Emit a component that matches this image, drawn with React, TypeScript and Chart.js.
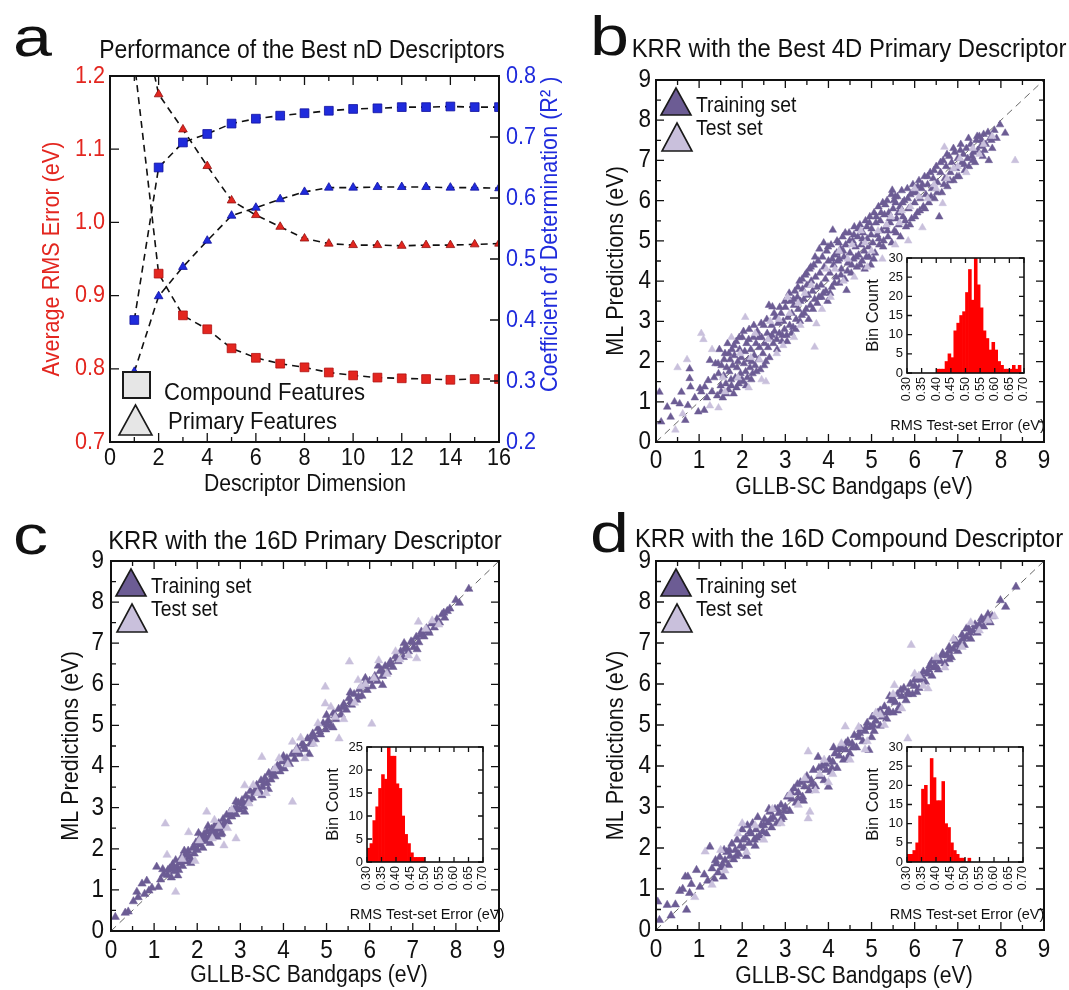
import React, { useEffect, useRef } from "react";
import { Chart, registerables } from "chart.js";

Chart.register(...registerables);

const SANS = "'Liberation Sans', Arial, Helvetica, sans-serif";
const RED = "#e3261f";
const BLUE = "#1f2bdc";
const DARK = "#6c5c94";
const LIGHT = "#c9c0dc";
const NARROW_X = 0.9; // horizontal squeeze used to mimic the condensed Helvetica of the figure

// ---------------- Panel a data ----------------
const dims = [1, 2, 3, 4, 5, 6, 7, 8, 9, 10, 11, 12, 13, 14, 15, 16];
const rmsCompound = [1.22, 0.93, 0.873, 0.854, 0.828, 0.815, 0.807, 0.802, 0.795, 0.791, 0.788, 0.787, 0.786, 0.785, 0.786, 0.786];
const rmsPrimary = [1.33, 1.175, 1.127, 1.077, 1.03, 1.01, 0.994, 0.978, 0.971, 0.969, 0.969, 0.968, 0.969, 0.969, 0.97, 0.971];
const r2Compound = [0.4, 0.65, 0.691, 0.705, 0.722, 0.73, 0.735, 0.739, 0.743, 0.746, 0.747, 0.749, 0.749, 0.75, 0.749, 0.749];
const r2Primary = [0.315, 0.439, 0.487, 0.53, 0.571, 0.584, 0.598, 0.61, 0.617, 0.617, 0.618, 0.618, 0.618, 0.617, 0.617, 0.616];

// ---------------- Panel b data (4D primary) ----------------
const bTrain = [
  [0.08, 1.24], [0.12, 0.5], [0.26, 0.87], [0.34, 0.62], [0.43, 1.0], [0.55, 0.95], [0.59, 1.24], [0.68, 0.54], [0.74, 0.91], [0.78, 1.82],
  [0.78, 1.58], [0.8, 1.37], [0.98, 0.75], [1.02, 1.33], [1.13, 1.37], [1.12, 0.79], [1.21, 1.53], [1.25, 2.03], [1.3, 1.25], [1.35, 1.6],
  [1.38, 1.95], [0.9, 1.1], [1.05, 1.25], [1.18, 1.1],
  [1.42, 1.15], [1.45, 1.7], [1.47, 2.3], [1.5, 1.4], [1.52, 1.9], [1.55, 1.1], [1.57, 1.65], [1.6, 2.2], [1.62, 1.45], [1.64, 1.85],
  [1.66, 2.45], [1.68, 1.3], [1.7, 1.75], [1.72, 2.05], [1.74, 1.55], [1.76, 2.3], [1.78, 1.9], [1.8, 1.2], [1.82, 2.15], [1.84, 1.6],
  [1.86, 2.5], [1.88, 1.85], [1.9, 2.0], [1.92, 1.45], [1.94, 2.3], [1.96, 1.7], [1.98, 2.1], [2.0, 2.6],
  [2.02, 1.5], [2.04, 1.95], [2.06, 2.25], [2.08, 1.75], [2.1, 2.45], [2.12, 1.6], [2.14, 2.05], [2.16, 2.8], [2.18, 1.85], [2.2, 2.3],
  [2.22, 2.0], [2.24, 1.7], [2.26, 2.6], [2.28, 2.15], [2.3, 1.9], [2.32, 2.45], [2.35, 2.75], [2.38, 2.05], [2.4, 2.35], [2.42, 1.8],
  [2.45, 2.6], [2.48, 2.2], [2.5, 2.9], [2.52, 2.45], [2.55, 2.0], [2.58, 2.7],
  [2.62, 3.4], [2.6, 2.35], [2.64, 2.6], [2.68, 2.9], [2.7, 3.36], [2.72, 2.45], [2.75, 2.75], [2.78, 3.1], [2.8, 2.55], [2.83, 2.95],
  [2.86, 2.7], [2.9, 3.2], [2.92, 2.5], [2.95, 3.0], [2.98, 2.8], [3.0, 3.35], [3.03, 2.65], [3.06, 3.1], [3.1, 2.9], [3.12, 3.5],
  [3.15, 3.2], [3.18, 2.85],
  [3.2, 3.4], [3.22, 3.75], [3.25, 3.05], [3.28, 3.6], [3.3, 3.3], [3.33, 4.0], [3.35, 3.5], [3.38, 3.15], [3.4, 3.8], [3.43, 3.55],
  [3.46, 4.15], [3.48, 3.3], [3.5, 3.9], [3.53, 3.65], [3.56, 4.3], [3.58, 3.4], [3.6, 4.0], [3.63, 3.75], [3.66, 4.4], [3.68, 3.55],
  [3.7, 4.1], [3.73, 3.85], [3.76, 4.5], [3.78, 3.6],
  [3.8, 4.2], [3.83, 3.9], [3.86, 4.6], [3.88, 3.7], [3.9, 4.35], [3.93, 4.05], [3.96, 4.75], [3.98, 3.5], [4.0, 4.5], [4.03, 4.2],
  [4.06, 4.9], [4.08, 3.85], [4.1, 5.27], [4.12, 4.4], [4.15, 4.65], [4.18, 4.1], [4.2, 5.0], [4.22, 4.5], [4.25, 3.95], [4.28, 4.8],
  [4.3, 4.3], [4.33, 5.1], [4.36, 4.6], [4.38, 4.05], [4.42, 3.77], [4.4, 4.9],
  [4.45, 4.45], [4.48, 5.2], [4.5, 4.7], [4.53, 4.2], [4.56, 5.0], [4.58, 4.55], [4.6, 5.35], [4.63, 4.85], [4.66, 4.35], [4.68, 5.1],
  [4.7, 4.65], [4.73, 5.4], [4.76, 4.9], [4.78, 4.5], [4.8, 5.2], [4.83, 4.75], [4.86, 5.5], [4.88, 4.6], [4.9, 5.05], [4.93, 4.85],
  [4.96, 5.6], [4.98, 4.4],
  [5.0, 5.3], [5.03, 4.95], [5.06, 5.7], [5.08, 4.7], [5.1, 5.45], [5.13, 5.15], [5.16, 5.85], [5.18, 4.9], [5.2, 5.5], [5.23, 5.25],
  [5.26, 5.95], [5.28, 5.0], [5.3, 5.65], [5.33, 5.35], [5.36, 6.0], [5.38, 5.1], [5.4, 5.7], [5.43, 5.45], [5.46, 6.15], [5.48, 6.26],
  [5.5, 5.8], [5.53, 5.25], [5.56, 5.95], [5.58, 5.55],
  [5.6, 6.1], [5.63, 5.4], [5.66, 5.85], [5.7, 6.25], [5.73, 5.6], [5.76, 6.0], [5.8, 5.35], [5.83, 6.3], [5.86, 5.8], [5.9, 6.15],
  [5.93, 5.55], [5.96, 6.4], [6.0, 5.95], [6.03, 6.2], [6.06, 5.7], [6.1, 6.5], [6.13, 6.05], [6.16, 6.3], [6.2, 5.85], [6.23, 6.6],
  [6.26, 6.15], [6.3, 6.4],
  [6.33, 5.95], [6.36, 6.7], [6.4, 6.3], [6.43, 6.55], [6.46, 6.05], [6.5, 6.85], [6.53, 6.45], [6.57, 5.6], [6.6, 6.7], [6.63, 6.2],
  [6.66, 7.0], [6.7, 6.55], [6.73, 6.85], [6.76, 6.35], [6.8, 7.1], [6.83, 6.7], [6.86, 6.95], [6.9, 6.5], [6.93, 7.2], [6.96, 6.8],
  [7.0, 7.05],
  [7.03, 6.6], [7.06, 7.25], [7.1, 6.95], [7.13, 7.15], [7.16, 6.75], [7.2, 7.3], [7.23, 7.05], [7.26, 6.85], [7.3, 7.4], [7.33, 7.1],
  [7.36, 7.2], [7.4, 6.95], [7.43, 7.5], [7.46, 7.25], [7.5, 7.6], [7.53, 7.35], [7.55, 7.51], [7.58, 7.1], [7.6, 7.65], [7.65, 7.4],
  [7.7, 7.7], [7.75, 7.55], [7.8, 7.3], [7.85, 7.75], [7.9, 7.55], [7.98, 7.89], [8.1, 7.68], [7.72, 7.0],
  [1.44, 1.95], [1.51, 1.25], [1.58, 2.05], [1.63, 1.2], [1.69, 2.2], [1.75, 1.4], [1.81, 2.4], [1.87, 1.35], [1.93, 2.6], [1.99, 1.55],
  [2.03, 2.75], [2.09, 1.4], [2.15, 2.55], [2.21, 1.55], [2.27, 2.9], [2.33, 1.75], [2.39, 2.6], [2.44, 2.95], [2.51, 1.9], [2.57, 3.05],
  [2.63, 2.1], [2.69, 2.65], [2.74, 3.2], [2.81, 2.3], [2.87, 3.35], [2.93, 2.65], [2.99, 3.5], [3.04, 2.5], [3.09, 3.7], [3.14, 2.7],
  [3.19, 3.55], [3.24, 2.8], [3.29, 3.85], [3.34, 3.0], [3.39, 4.05], [3.44, 3.2], [3.49, 4.2], [3.54, 3.05], [3.59, 4.35], [3.64, 3.3],
  [3.69, 4.6], [3.74, 3.45], [3.79, 4.8], [3.84, 3.6], [3.89, 4.95], [3.94, 3.75], [3.99, 4.85], [4.04, 3.7], [4.09, 4.55], [4.14, 3.95],
  [4.19, 4.7], [4.24, 4.95], [4.29, 4.15], [4.34, 4.75], [4.39, 5.2], [4.44, 4.25], [4.49, 5.0], [4.54, 4.4], [4.59, 5.15], [4.64, 4.6],
  [4.69, 5.3], [4.74, 4.4], [4.79, 5.05], [4.84, 4.3], [4.89, 5.35], [4.94, 4.6], [4.99, 5.15], [5.05, 4.55], [5.11, 5.6], [5.17, 5.05],
  [5.22, 5.7], [5.27, 4.85], [5.32, 5.9], [5.37, 5.25], [5.42, 5.55], [5.47, 4.95], [5.52, 6.0], [5.57, 5.2], [5.62, 5.7], [5.67, 5.1],
  [5.72, 5.95], [5.78, 5.5], [5.84, 6.05], [5.89, 5.4], [5.95, 6.2], [6.01, 5.6], [6.07, 6.35], [6.12, 5.75], [6.18, 6.4], [6.24, 5.8],
  [6.3, 6.6], [6.38, 6.1], [6.45, 6.75], [6.52, 6.2], [6.6, 6.95], [6.68, 6.4], [6.75, 7.15], [6.82, 6.5], [6.9, 7.3], [6.98, 6.6],
  [7.07, 7.4], [7.15, 6.9], [7.25, 7.55], [7.35, 7.0], [7.45, 7.6], [7.62, 7.25], [7.78, 7.5], [5.55, 6.1], [4.95, 5.45], [4.25, 4.55],
];
const bTest = [
  [0.45, 0.3], [0.5, 1.85], [0.72, 2.05], [0.62, 0.7], [1.05, 2.7], [1.1, 2.55], [1.25, 0.9], [1.45, 0.85], [1.3, 2.3], [1.6, 1.25],
  [1.75, 2.6], [1.9, 1.6], [2.07, 3.1], [2.15, 1.35], [2.3, 2.7], [2.45, 1.55], [2.55, 1.5], [2.65, 3.0], [2.8, 2.2], [2.95, 2.4],
  [3.05, 3.6], [3.2, 2.6], [3.35, 2.9], [3.45, 3.7], [3.68, 2.36], [3.72, 2.94], [3.85, 3.3], [3.95, 4.3], [4.05, 3.6], [4.25, 4.75],
  [4.35, 4.0], [4.55, 4.9], [4.6, 4.1], [4.75, 5.25], [4.9, 4.35], [5.0, 4.75], [5.15, 5.25], [5.25, 4.55], [5.45, 5.6], [5.55, 4.9],
  [5.7, 5.75], [5.85, 5.0], [6.0, 6.3], [6.18, 5.33], [6.3, 6.05], [6.45, 6.4], [6.65, 5.93], [6.69, 7.33], [6.75, 6.55], [6.9, 6.8],
  [7.05, 7.05], [7.2, 6.7], [7.35, 7.3], [7.5, 7.15], [7.6, 7.4], [8.33, 7.0], [4.15, 4.3], [3.6, 3.9], [3.3, 3.45], [2.85, 3.05],
  [2.4, 2.05], [1.95, 2.2], [5.35, 5.4], [5.65, 5.45], [6.1, 6.1], [4.45, 4.55], [4.85, 4.95], [3.1, 3.2], [2.6, 2.55], [2.2, 2.1],
  [1.55, 1.6], [7.8, 7.6], [7.0, 6.85], [6.5, 6.3], [5.9, 5.85],
];

// ---------------- Panel c data (16D primary) ----------------
const cTrain = [
  [0.1, 0.34], [0.33, 0.44], [0.4, 0.47], [0.52, 0.72], [0.6, 0.95], [0.63, 0.82], [0.72, 1.15], [0.78, 0.9], [0.83, 1.22], [0.88, 0.98],
  [1.06, 1.56], [1.1, 1.07], [1.15, 1.25], [1.22, 1.38], [1.31, 1.36], [1.36, 1.52], [1.4, 1.3], [1.43, 1.62], [1.47, 1.45], [1.5, 1.72],
  [1.53, 1.55], [1.57, 1.48], [1.6, 1.66], [1.63, 1.78], [1.66, 1.58], [1.69, 1.71], [1.73, 1.87], [1.76, 1.69], [1.79, 1.95], [1.83, 1.8],
  [1.86, 1.72], [1.9, 2.03], [1.93, 1.88], [1.97, 2.15], [2.0, 1.97], [2.03, 2.38], [2.06, 2.1], [2.1, 2.22], [2.13, 2.02], [2.16, 2.36],
  [2.2, 2.18], [2.23, 2.42], [2.27, 2.27], [2.3, 2.14], [2.33, 2.48], [2.37, 2.35], [2.4, 2.56], [2.43, 2.4], [2.46, 2.29], [2.5, 2.62],
  [2.53, 2.48], [2.57, 2.38], [2.6, 2.72], [2.64, 2.55], [2.68, 2.82], [2.72, 2.66], [2.76, 2.9], [2.8, 2.78], [2.85, 2.96], [2.9, 2.84],
  [2.95, 3.12], [2.99, 2.95], [3.04, 3.18], [3.08, 3.02], [3.13, 3.28], [3.18, 3.12], [3.23, 3.4], [3.28, 3.24], [3.33, 3.36], [3.38, 3.55],
  [3.43, 3.42], [3.48, 3.66], [3.52, 3.5], [3.57, 3.72], [3.62, 3.6], [3.66, 3.84], [3.71, 3.68], [3.76, 3.9], [3.8, 3.76], [3.86, 4.02],
  [3.92, 3.88], [3.97, 4.12], [4.02, 3.95], [4.08, 4.2], [4.14, 4.06], [4.2, 4.3], [4.26, 4.18], [4.32, 4.45], [4.38, 4.3], [4.44, 4.56],
  [4.5, 4.42], [4.56, 4.68], [4.62, 4.55], [4.68, 4.8], [4.74, 4.66], [4.8, 4.93], [4.86, 4.78], [4.92, 5.05], [4.98, 4.9], [5.04, 5.12],
  [5.1, 4.98], [5.16, 5.3], [5.22, 5.15], [5.28, 5.4], [5.34, 5.26], [5.4, 5.52], [5.46, 5.38], [5.52, 5.66], [5.58, 5.5], [5.64, 5.76],
  [5.7, 5.62], [5.76, 5.88], [5.82, 5.72], [5.88, 6.0], [5.94, 5.86], [6.0, 6.08], [6.06, 5.95], [6.12, 6.2], [6.18, 6.08], [6.24, 6.32],
  [6.3, 6.2], [6.36, 6.44], [6.42, 6.3], [6.48, 6.55], [6.54, 6.42], [6.6, 6.68], [6.66, 6.56], [6.72, 6.8], [6.78, 6.66], [6.84, 6.92],
  [6.9, 6.8], [6.96, 7.04], [7.02, 6.9], [7.08, 7.15], [7.14, 7.02], [7.2, 7.28], [7.26, 7.16], [7.32, 7.36], [7.38, 7.25], [7.44, 7.48],
  [7.5, 7.38], [7.56, 7.58], [7.62, 7.5], [7.68, 7.7], [7.74, 7.62], [7.8, 7.78], [7.86, 7.84], [8.0, 8.05], [8.08, 7.98], [8.3, 8.32],
  [1.7, 1.95], [2.25, 2.55], [2.55, 2.35], [3.1, 2.9], [3.5, 3.3], [3.65, 3.45], [4.0, 4.25], [4.6, 4.3], [5.15, 4.95], [5.0, 5.25],
  [5.55, 5.8], [5.9, 6.15], [6.2, 6.45], [6.3, 5.98], [6.8, 7.0], [7.1, 6.85], [2.9, 3.15], [1.55, 1.35], [1.2, 1.5], [0.95, 1.05],
  [1.45, 1.55], [1.62, 1.7], [1.78, 1.84], [1.95, 2.02], [2.08, 2.3], [2.18, 2.28], [2.35, 2.4], [2.45, 2.52], [2.62, 2.62], [2.78, 2.86],
  [2.92, 3.0], [3.06, 3.1], [3.2, 3.2], [3.36, 3.46], [3.55, 3.6], [3.74, 3.8], [3.9, 4.0], [4.1, 4.12], [4.28, 4.35], [4.47, 4.5],
  [4.66, 4.72], [4.84, 4.85], [5.02, 5.02], [5.2, 5.24], [5.38, 5.44], [5.56, 5.58], [5.74, 5.7], [5.92, 5.95], [6.1, 6.14], [6.28, 6.34],
  [6.46, 6.48], [6.64, 6.62], [6.82, 6.85], [7.0, 7.02], [7.18, 7.2], [7.36, 7.3], [7.54, 7.5], [7.72, 7.74], [1.32, 1.48], [1.85, 1.65],
];
const cTest = [
  [1.26, 2.61], [1.5, 0.95], [2.22, 2.9], [2.9, 2.25], [2.62, 2.08], [3.1, 3.54], [3.5, 4.23], [4.21, 3.14], [4.21, 4.6], [4.97, 5.94],
  [4.97, 5.53], [5.29, 4.68], [5.53, 6.55], [5.73, 6.1], [6.05, 5.04], [6.21, 6.58], [7.09, 6.63], [7.13, 7.52], [1.3, 1.85], [1.8, 2.4],
  [1.95, 1.7], [2.4, 2.7], [2.7, 2.5], [3.3, 3.55], [3.6, 3.35], [3.9, 4.2], [4.4, 4.7], [4.5, 4.2], [4.8, 5.05], [5.1, 5.45],
  [5.4, 5.15], [5.65, 5.55], [5.9, 6.0], [6.4, 6.25], [6.6, 6.8], [6.9, 6.7], [7.3, 7.35], [7.6, 7.45], [2.05, 2.2], [2.35, 2.25],
  [2.8, 2.95], [3.2, 3.1], [3.8, 3.95], [4.1, 4.05], [4.7, 4.55], [5.2, 5.2], [5.8, 5.95], [6.1, 6.15], [6.7, 6.6], [7.45, 7.55],
  [1.65, 1.75], [2.5, 2.55], [3.4, 3.35], [4.3, 4.4],
];

// ---------------- Panel d data (16D compound) ----------------
const dTrain = [
  [0.04, 0.69], [0.08, 0.24], [0.26, 0.61], [0.35, 0.35], [0.45, 0.62], [0.71, 0.49], [0.55, 0.95], [0.62, 1.0], [0.68, 1.3], [0.74, 1.3],
  [0.78, 0.9], [0.82, 1.12], [0.94, 1.46], [1.02, 1.05], [1.12, 1.35], [1.25, 2.03], [1.2, 1.2], [1.3, 1.5], [1.35, 1.25], [1.4, 1.62],
  [1.44, 1.4], [1.48, 1.78], [1.52, 1.52], [1.56, 1.3], [1.6, 1.7], [1.64, 1.9], [1.68, 1.58], [1.72, 1.8], [1.76, 2.1], [1.8, 1.72],
  [1.84, 1.95], [1.88, 2.2], [1.92, 1.85], [1.96, 2.05], [2.0, 2.45], [2.04, 2.0], [2.08, 2.25], [2.12, 2.55], [2.16, 2.12], [2.2, 2.35],
  [2.24, 2.6], [2.28, 2.2], [2.32, 2.45], [2.36, 2.75], [2.4, 2.3], [2.44, 2.55], [2.48, 2.4], [2.52, 2.7], [2.56, 2.35], [2.6, 2.62],
  [2.64, 2.88], [2.68, 2.5], [2.72, 2.75], [2.76, 2.95], [2.8, 2.6], [2.85, 2.85], [2.9, 3.05], [2.95, 2.75], [3.0, 3.0], [3.05, 3.25],
  [3.1, 2.9], [3.15, 3.2], [3.2, 3.45], [3.25, 3.1], [3.3, 3.35], [3.35, 3.6], [3.4, 3.25], [3.45, 3.5], [3.5, 3.75], [3.55, 3.4],
  [3.6, 3.65], [3.65, 3.9], [3.7, 3.5], [3.76, 4.22], [3.8, 3.75], [3.85, 4.0], [3.9, 3.65], [3.95, 3.9], [4.0, 3.49], [4.02, 4.15],
  [4.06, 3.85], [4.1, 4.1], [4.15, 4.3], [4.2, 3.95], [4.25, 4.25], [4.3, 4.45], [4.35, 4.15], [4.4, 4.4], [4.45, 4.6], [4.5, 4.3],
  [4.55, 4.55], [4.6, 4.75], [4.65, 4.45], [4.7, 4.7], [4.75, 4.9], [4.8, 4.6], [4.85, 4.85], [4.9, 5.05], [4.94, 4.39], [4.98, 4.95],
  [5.02, 5.2], [5.06, 4.85], [5.1, 5.1], [5.15, 5.3], [5.2, 4.98], [5.25, 5.2], [5.3, 5.45], [5.35, 5.15], [5.4, 5.35], [5.45, 5.6],
  [5.5, 5.3], [5.55, 5.55], [5.6, 5.75], [5.65, 5.45], [5.7, 5.7], [5.75, 5.9], [5.8, 5.6], [5.85, 5.8], [5.9, 6.0], [5.95, 5.75],
  [6.0, 5.95], [6.05, 6.15], [6.1, 5.9], [6.15, 6.1], [6.2, 6.3], [6.25, 6.05], [6.3, 6.25], [6.35, 6.45], [6.4, 6.2], [6.45, 6.4],
  [6.5, 6.6], [6.55, 6.35], [6.6, 6.55], [6.65, 6.75], [6.7, 6.5], [6.75, 6.7], [6.8, 6.9], [6.85, 6.65], [6.9, 6.85], [6.95, 7.05],
  [7.0, 6.8], [7.05, 7.0], [7.1, 7.2], [7.15, 6.95], [7.2, 7.15], [7.25, 7.35], [7.3, 7.1], [7.35, 7.3], [7.4, 7.45], [7.45, 7.25],
  [7.5, 7.45], [7.55, 7.6], [7.6, 7.4], [7.65, 7.55], [7.7, 7.7], [7.75, 7.5], [7.8, 7.65], [7.99, 8.04], [8.11, 7.88], [8.35, 8.37],
  [1.58, 1.95], [2.1, 1.8], [2.3, 2.05], [2.62, 2.95], [2.9, 2.7], [3.28, 3.55], [3.42, 3.15], [4.12, 4.45], [4.45, 4.2], [5.0, 4.7],
  [5.42, 5.7], [5.6, 5.35], [6.05, 5.8], [6.4, 6.55], [6.8, 6.6], [7.2, 7.35],
  [1.38, 1.7], [1.54, 1.6], [1.7, 1.95], [1.86, 1.8], [2.02, 2.2], [2.18, 2.4], [2.34, 2.25], [2.5, 2.55], [2.66, 2.7], [2.82, 2.95],
  [2.98, 2.9], [3.14, 3.35], [3.3, 3.2], [3.46, 3.65], [3.62, 3.55], [3.78, 3.95], [3.94, 4.05], [4.08, 3.95], [4.24, 4.4], [4.4, 4.55],
  [4.56, 4.45], [4.72, 4.8], [4.88, 4.95], [5.04, 5.0], [5.2, 5.35], [5.36, 5.3], [5.52, 5.6], [5.68, 5.85], [5.84, 5.75], [6.0, 6.1],
  [6.16, 6.2], [6.32, 6.35], [6.48, 6.45], [6.64, 6.7], [6.8, 6.8], [6.96, 6.95], [7.12, 7.1], [7.28, 7.25], [7.44, 7.4], [7.6, 7.55],
];
const dTest = [
  [1.14, 1.91], [3.53, 2.72], [3.57, 2.88], [3.53, 4.35], [4.39, 4.96], [5.84, 4.67], [5.92, 6.95], [5.53, 5.97], [6.31, 5.89], [1.3, 1.1],
  [1.6, 1.45], [1.9, 2.35], [2.1, 1.9], [2.3, 2.55], [2.5, 2.2], [2.7, 2.95], [2.9, 2.6], [3.1, 3.3], [3.3, 3.05], [3.45, 3.7],
  [3.7, 3.4], [3.9, 4.15], [4.1, 3.8], [4.3, 4.55], [4.5, 4.15], [4.7, 4.95], [4.9, 4.6], [5.1, 5.3], [5.3, 5.0], [5.5, 5.75],
  [5.7, 5.4], [6.0, 6.25], [6.2, 5.95], [6.5, 6.65], [6.7, 6.4], [6.9, 7.1], [7.1, 6.9], [7.3, 7.5], [7.5, 7.3], [7.7, 7.55],
  [7.85, 7.65], [4.85, 4.4], [4.0, 3.6], [2.0, 2.6], [1.5, 1.95], [0.9, 0.8], [6.1, 6.2], [5.2, 5.25], [3.8, 3.8],
];

// ---------------- Histogram data (bin width 0.01 eV) ----------------
const binWidth = 0.01;
const bHistStart = 0.4;
const bHistCounts = [1, 1, 1, 3, 5, 4, 11, 13, 15, 16, 21, 27, 19, 30, 23, 17, 11, 9, 6, 8, 6, 3, 2, 1, 1, 1, 2, 1, 2];
const cHistStart = 0.3;
const cHistCounts = [3, 4, 9, 12, 16, 19, 18, 25, 23, 23, 17, 16, 10, 6, 4, 2, 1, 1, 1, 1];
const dHistStart = 0.3;
const dHistCounts = [2, 2, 3, 5, 12, 19, 20, 15, 27, 22, 16, 16, 21, 10, 9, 5, 3, 2, 1, 1, 0, 1];

// ---------------- helpers ----------------
const toXY = (pts: number[][]) => pts.map(([x, y]) => ({ x, y }));

type TOpt = { size: number; color?: string; align?: CanvasTextAlign; baseline?: CanvasTextBaseline; rot?: number; sx?: number };
function drawT(ctx: CanvasRenderingContext2D, text: string, x: number, y: number, o: TOpt) {
  ctx.save();
  ctx.font = `${o.size}px ${SANS}`;
  ctx.fillStyle = o.color || "#111";
  ctx.textAlign = o.align || "center";
  ctx.textBaseline = o.baseline || "middle";
  ctx.translate(x, y);
  if (o.rot) ctx.rotate(o.rot);
  ctx.scale(o.sx ?? NARROW_X, 1);
  ctx.fillText(text, 0, 0);
  ctx.restore();
}

type TextItem = TOpt & { text: string; x: number; y: number };
function textsPlugin(items: TextItem[]) {
  return {
    id: "texts",
    afterDraw(chart: any) {
      items.forEach((it) => drawT(chart.ctx, it.text, it.x, it.y, it));
    },
  };
}

type LabelSpec = { id: string; side: "left" | "right" | "bottom"; gap: number; size: number; color?: string; digits: number; rotate?: boolean; sx?: number };
function tickLabelsPlugin(specs: LabelSpec[]) {
  return {
    id: "tickLabels",
    afterDraw(chart: any) {
      const ca = chart.chartArea;
      specs.forEach((sp) => {
        const s = chart.scales[sp.id];
        s.ticks.forEach((t: any) => {
          const p = s.getPixelForValue(t.value);
          const txt = Number(t.value).toFixed(sp.digits);
          const base = { size: sp.size, color: sp.color, sx: sp.sx };
          if (sp.side === "bottom") {
            if (sp.rotate) drawT(chart.ctx, txt, p, ca.bottom + sp.gap, { ...base, rot: -Math.PI / 2, align: "right" });
            else drawT(chart.ctx, txt, p, ca.bottom + sp.gap, { ...base, align: "center" });
          } else if (sp.side === "left") {
            drawT(chart.ctx, txt, ca.left - sp.gap, p, { ...base, align: "right" });
          } else {
            drawT(chart.ctx, txt, ca.right + sp.gap, p, { ...base, align: "left" });
          }
        });
      });
    },
  };
}

type AxisTicks = { id: string; sides: string[]; major: number; minor?: number };
function framePlugin(axes: AxisTicks[], frameWidth: number, whiteFill: boolean) {
  return {
    id: "frame",
    beforeDatasetsDraw(chart: any) {
      if (!whiteFill) return;
      const { ctx, chartArea: ca } = chart;
      ctx.save();
      ctx.fillStyle = "#fff";
      ctx.fillRect(ca.left, ca.top, ca.width, ca.height);
      ctx.restore();
    },
    afterDatasetsDraw(chart: any) {
      const { ctx, chartArea: ca } = chart;
      ctx.save();
      ctx.strokeStyle = "#111";
      ctx.lineWidth = 1.3;
      ctx.beginPath();
      axes.forEach((ax) => {
        const s = chart.scales[ax.id];
        if (!s) return;
        const vals: number[] = s.ticks.map((t: any) => t.value);
        const draw = (v: number, len: number) => {
          const p = s.getPixelForValue(v);
          if (s.isHorizontal()) {
            if (p < ca.left - 0.5 || p > ca.right + 0.5) return;
            if (ax.sides.includes("bottom")) { ctx.moveTo(p, ca.bottom); ctx.lineTo(p, ca.bottom - len); }
            if (ax.sides.includes("top")) { ctx.moveTo(p, ca.top); ctx.lineTo(p, ca.top + len); }
          } else {
            if (p < ca.top - 0.5 || p > ca.bottom + 0.5) return;
            if (ax.sides.includes("left")) { ctx.moveTo(ca.left, p); ctx.lineTo(ca.left + len, p); }
            if (ax.sides.includes("right")) { ctx.moveTo(ca.right, p); ctx.lineTo(ca.right - len, p); }
          }
        };
        vals.forEach((v) => draw(v, ax.major));
        if (ax.minor) for (let i = 0; i < vals.length - 1; i++) draw((vals[i] + vals[i + 1]) / 2, ax.minor);
      });
      ctx.stroke();
      ctx.lineWidth = frameWidth;
      ctx.strokeRect(ca.left, ca.top, ca.width, ca.height);
      ctx.restore();
    },
  };
}

function triangle(ctx: any, cx: number, top: number, bottom: number, half: number, fill: string) {
  ctx.beginPath();
  ctx.moveTo(cx, top);
  ctx.lineTo(cx + half, bottom);
  ctx.lineTo(cx - half, bottom);
  ctx.closePath();
  ctx.fillStyle = fill;
  ctx.fill();
  ctx.lineWidth = 1.6;
  ctx.strokeStyle = "#1a1a1a";
  ctx.stroke();
}

const scatterLegend = {
  id: "scatterLegend",
  afterDraw(chart: any) {
    const { ctx, chartArea: ca } = chart;
    const ds = chart.data.datasets;
    ctx.save();
    triangle(ctx, ca.left + 20, ca.top + 8, ca.top + 35, 15, DARK);
    triangle(ctx, ca.left + 21, ca.top + 43, ca.top + 71, 15, LIGHT);
    ctx.restore();
    drawT(ctx, ds[1].label, ca.left + 40, ca.top + 26, { size: 21.5, align: "left" });
    drawT(ctx, ds[0].label, ca.left + 40, ca.top + 49, { size: 21.5, align: "left" });
  },
};

const panelALegend = {
  id: "panelALegend",
  afterDraw(chart: any) {
    const { ctx } = chart;
    ctx.save();
    ctx.fillStyle = "#e6e6e6";
    ctx.strokeStyle = "#1a1a1a";
    ctx.lineWidth = 2;
    ctx.fillRect(123, 372, 27, 26);
    ctx.strokeRect(123, 372, 27, 26);
    triangle(ctx, 135.5, 405, 435, 16.5, "#e6e6e6");
    ctx.restore();
    drawT(ctx, "Compound Features", 164, 393, { size: 24.5, align: "left" });
    drawT(ctx, "Primary Features", 168, 422, { size: 24.5, align: "left" });
  },
};

const hiddenTicks = (extra: any) => ({ display: false, autoSkip: false, ...extra });

// ---------------- chart configs ----------------
function panelAConfig(): any {
  const mk = (label: string, vals: number[], axis: string, style: string, color: string, edge: string, r: number) => ({
    label,
    data: dims.map((d, i) => ({ x: d, y: vals[i] })),
    yAxisID: axis,
    showLine: true,
    borderColor: "#111",
    borderWidth: 1.6,
    borderDash: [7, 5],
    pointStyle: style,
    pointRadius: r,
    pointBackgroundColor: color,
    pointBorderColor: edge,
    pointBorderWidth: 0.8,
  });
  return {
    type: "scatter",
    data: {
      datasets: [
        mk("RMS compound", rmsCompound, "y", "rect", RED, "#b01010", 6.2),
        mk("RMS primary", rmsPrimary, "y", "triangle", RED, "#901010", 5),
        mk("R2 compound", r2Compound, "y1", "rect", BLUE, "#1010a0", 6.2),
        mk("R2 primary", r2Primary, "y1", "triangle", BLUE, "#1010a0", 5),
      ],
    },
    options: {
      responsive: false,
      animation: false,
      layout: { padding: { top: 76, left: 0, right: 0, bottom: 0 } },
      plugins: { legend: { display: false }, tooltip: { enabled: false } },
      scales: {
        x: {
          type: "linear", min: 0, max: 16, ticks: hiddenTicks({ stepSize: 2 }),
          grid: { display: false }, border: { display: false },
          afterFit: (s: any) => { s.height = 58; },
        },
        y: {
          position: "left", min: 0.7, max: 1.2, ticks: hiddenTicks({ stepSize: 0.1 }),
          grid: { display: false }, border: { display: false },
          afterFit: (s: any) => { s.width = 110; },
        },
        y1: {
          position: "right", min: 0.2, max: 0.8, ticks: hiddenTicks({ stepSize: 0.1 }),
          grid: { display: false }, border: { display: false },
          afterFit: (s: any) => { s.width = 76; },
        },
      },
    },
    plugins: [
      framePlugin(
        [
          { id: "x", sides: ["bottom", "top"], major: 9, minor: 5 },
          { id: "y", sides: ["left"], major: 9 },
          { id: "y1", sides: ["right"], major: 9 },
        ],
        2,
        false
      ),
      panelALegend,
      tickLabelsPlugin([
        { id: "x", side: "bottom", gap: 16, size: 24, digits: 0 },
        { id: "y", side: "left", gap: 5, size: 24, digits: 1, color: RED },
        { id: "y1", side: "right", gap: 7, size: 24, digits: 1, color: BLUE },
      ]),
      textsPlugin([
        { text: "Performance of the Best nD Descriptors", x: 302, y: 51, size: 25.5 },
        { text: "Descriptor Dimension", x: 305, y: 485, size: 23.5 },
        { text: "Average RMS Error (eV)", x: 52, y: 259, size: 24, color: RED, rot: -Math.PI / 2 },
        { text: "Coefficient of Determination (R\u00B2 )", x: 550, y: 392, size: 24, color: BLUE, rot: -Math.PI / 2, align: "left" },
        { text: "a", x: 13, y: 56, size: 56, sx: 1.25, align: "left", baseline: "alphabetic" },
      ]),
    ],
  };
}

type ScatterLayout = {
  padTop: number; padRight: number; yWidth: number; xHeight: number;
  yTickGap: number; xTickGap: number; yTitleX: number; xTitleY: number;
  title: string; titleX: number; titleY: number; letter: string; letterX: number; letterY: number;
};

function scatterConfig(train: number[][], test: number[][], L: ScatterLayout, r: number): any {
  return {
    type: "scatter",
    data: {
      datasets: [
        { label: "Test set", data: toXY(test), order: 0, pointStyle: "triangle", pointRadius: r, backgroundColor: LIGHT, borderColor: LIGHT, borderWidth: 0.5 },
        { label: "Training set", data: toXY(train), order: 1, pointStyle: "triangle", pointRadius: r, backgroundColor: DARK, borderColor: DARK, borderWidth: 0.5 },
        { label: "diag", data: [{ x: 0, y: 0 }, { x: 9, y: 9 }], order: 2, showLine: true, pointRadius: 0, borderColor: "#666", borderWidth: 1, borderDash: [7, 5] },
      ],
    },
    options: {
      responsive: false,
      animation: false,
      layout: { padding: { top: L.padTop, right: L.padRight, left: 0, bottom: 0 } },
      plugins: { legend: { display: false }, tooltip: { enabled: false } },
      scales: {
        x: {
          type: "linear", min: 0, max: 9, ticks: hiddenTicks({ stepSize: 1 }),
          grid: { display: false }, border: { display: false },
          afterFit: (s: any) => { s.height = L.xHeight; },
        },
        y: {
          min: 0, max: 9, ticks: hiddenTicks({ stepSize: 1 }),
          grid: { display: false }, border: { display: false },
          afterFit: (s: any) => { s.width = L.yWidth; },
        },
      },
    },
    plugins: [
      framePlugin(
        [
          { id: "x", sides: ["bottom", "top"], major: 8, minor: 5 },
          { id: "y", sides: ["left", "right"], major: 8, minor: 5 },
        ],
        2,
        false
      ),
      scatterLegend,
      {
        id: "scatterTexts",
        afterDraw(chart: any) {
          const ca = chart.chartArea;
          const cx = (ca.left + ca.right) / 2;
          const cy = (ca.top + ca.bottom) / 2;
          drawT(chart.ctx, "GLLB-SC Bandgaps (eV)", cx + 4, L.xTitleY, { size: 23.5 });
          drawT(chart.ctx, "ML Predictions (eV)", L.yTitleX, cy, { size: 24, rot: -Math.PI / 2 });
        },
      },
      tickLabelsPlugin([
        { id: "x", side: "bottom", gap: L.xTickGap, size: 25, digits: 0 },
        { id: "y", side: "left", gap: L.yTickGap, size: 25, digits: 0 },
      ]),
      textsPlugin([
        { text: L.title, x: L.titleX, y: L.titleY, size: 26.5 },
        { text: L.letter, x: L.letterX, y: L.letterY, size: 56, sx: 1.25, align: "left", baseline: "alphabetic" },
      ]),
    ],
  };
}

function histConfig(start: number, counts: number[], ymax: number, padRight: number): any {
  const data = counts.map((c, i) => ({ x: start + i * binWidth + binWidth / 2, y: c }));
  return {
    type: "bar",
    data: { datasets: [{ label: "Bin Count", data, backgroundColor: "#ff0000", borderWidth: 0, barPercentage: 1, categoryPercentage: 1 }] },
    options: {
      responsive: false,
      animation: false,
      layout: { padding: { top: 13, right: padRight, left: 0, bottom: 0 } },
      plugins: { legend: { display: false }, tooltip: { enabled: false } },
      scales: {
        x: {
          type: "linear", min: 0.3, max: 0.7, offset: false, ticks: hiddenTicks({ stepSize: 0.05 }),
          grid: { display: false, offset: false }, border: { display: false },
          afterFit: (s: any) => { s.height = 72; },
        },
        y: {
          min: 0, max: ymax, ticks: hiddenTicks({ stepSize: 5 }),
          grid: { display: false }, border: { display: false },
          afterFit: (s: any) => { s.width = 57; },
        },
      },
    },
    plugins: [
      framePlugin(
        [
          { id: "x", sides: ["bottom", "top"], major: 5 },
          { id: "y", sides: ["left", "right"], major: 5 },
        ],
        1.6,
        true
      ),
      tickLabelsPlugin([
        { id: "x", side: "bottom", gap: 4, size: 12.5, digits: 2, rotate: true, sx: 1 },
        { id: "y", side: "left", gap: 4, size: 13, digits: 0, sx: 1 },
      ]),
      {
        id: "histTexts",
        afterDraw(chart: any) {
          const ca = chart.chartArea;
          drawT(chart.ctx, "RMS Test-set Error (eV)", (ca.left + ca.right) / 2 + 2, 181, { size: 14.5, sx: 1 });
          drawT(chart.ctx, "Bin Count", 23, (ca.top + ca.bottom) / 2, { size: 16.5, sx: 1, rot: -Math.PI / 2 });
        },
      },
    ],
  };
}

const LAYOUTS = {
  a: { left: 0, top: 0, w: 575, h: 500 },
  b: { left: 560, top: 0, w: 509, h: 500 },
  c: { left: 0, top: 490, w: 560, h: 500 },
  d: { left: 560, top: 490, w: 509, h: 500 },
  ib: { left: 850, top: 245, w: 200, h: 200 },
  ic: { left: 310, top: 734, w: 200, h: 200 },
  id: { left: 850, top: 734, w: 200, h: 200 },
};

export default function App() {
  const ra = useRef<HTMLCanvasElement>(null);
  const rb = useRef<HTMLCanvasElement>(null);
  const rc = useRef<HTMLCanvasElement>(null);
  const rd = useRef<HTMLCanvasElement>(null);
  const rib = useRef<HTMLCanvasElement>(null);
  const ric = useRef<HTMLCanvasElement>(null);
  const rid = useRef<HTMLCanvasElement>(null);

  useEffect(() => {
    const charts: Chart[] = [];
    charts.push(new Chart(ra.current as any, panelAConfig()));
    charts.push(new Chart(rb.current as any, scatterConfig(bTrain, bTest, {
      padTop: 80, padRight: 25, yWidth: 96, xHeight: 58, yTickGap: 5, xTickGap: 19, yTitleX: 56, xTitleY: 488,
      title: "KRR with the Best 4D Primary Descriptor", titleX: 289, titleY: 50, letter: "b", letterX: 30, letterY: 55,
    }, 4.4)));
    charts.push(new Chart(rc.current as any, scatterConfig(cTrain, cTest, {
      padTop: 71, padRight: 61, yWidth: 111, xHeight: 59, yTickGap: 7, xTickGap: 20, yTitleX: 71, xTitleY: 486,
      title: "KRR with the 16D Primary Descriptor", titleX: 305, titleY: 52, letter: "c", letterX: 13, letterY: 64,
    }, 4.8)));
    charts.push(new Chart(rd.current as any, scatterConfig(dTrain, dTest, {
      padTop: 71, padRight: 25, yWidth: 96, xHeight: 60, yTickGap: 5, xTickGap: 20, yTitleX: 56, xTitleY: 487,
      title: "KRR with the 16D Compound Descriptor", titleX: 289, titleY: 50, letter: "d", letterX: 30, letterY: 62,
    }, 4.8)));
    charts.push(new Chart(rib.current as any, histConfig(bHistStart, bHistCounts, 30, 26)));
    charts.push(new Chart(ric.current as any, histConfig(cHistStart, cHistCounts, 25, 27)));
    charts.push(new Chart(rid.current as any, histConfig(dHistStart, dHistCounts, 30, 27)));
    return () => charts.forEach((c) => c.destroy());
  }, []);

  const cv = (ref: any, k: keyof typeof LAYOUTS) => {
    const L = LAYOUTS[k];
    return (
      <canvas
        ref={ref}
        width={L.w}
        height={L.h}
        style={{ position: "absolute", left: L.left, top: L.top, width: L.w, height: L.h }}
      />
    );
  };

  return (
    <div style={{ position: "absolute", left: 0, top: 0, width: 1069, height: 990, background: "#fff", overflow: "hidden" }}>
      {cv(ra, "a")}
      {cv(rb, "b")}
      {cv(rc, "c")}
      {cv(rd, "d")}
      {cv(rib, "ib")}
      {cv(ric, "ic")}
      {cv(rid, "id")}
    </div>
  );
}
